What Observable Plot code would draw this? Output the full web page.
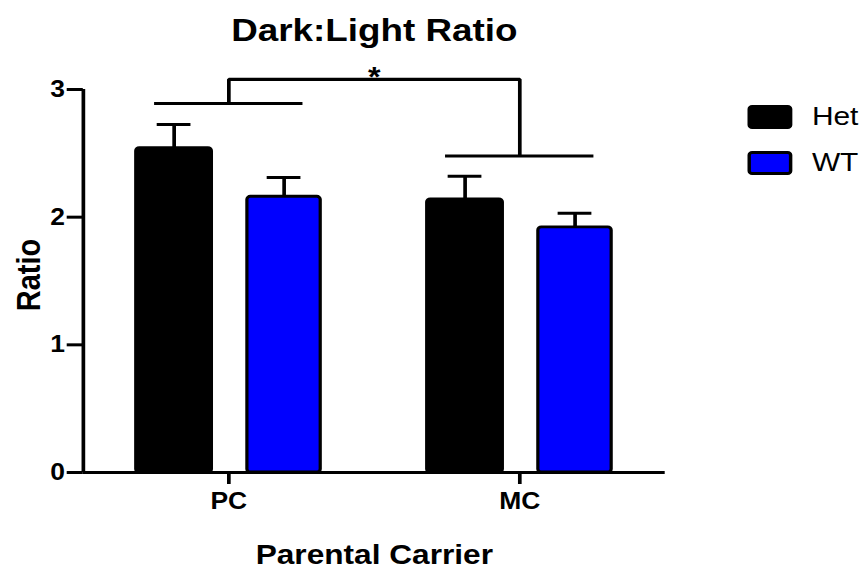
<!DOCTYPE html>
<html><head><meta charset="utf-8">
<script src="https://cdn.jsdelivr.net/npm/d3@7"></script>
<script src="https://cdn.jsdelivr.net/npm/@observablehq/plot@0.6"></script>
<style>
html,body{margin:0;padding:0;background:#fff;overflow:hidden;}
#wrap{position:relative;width:750px;height:571px;transform:scaleX(1.15);transform-origin:0 0;font-family:"Liberation Sans",Arial,sans-serif;}
#wrap svg{position:absolute;left:0;top:0;}
.lg{position:absolute;display:flex;align-items:center;}
.lg .sw{width:33px;height:18px;border:3px solid #000;border-radius:4px;box-sizing:content-box;}
.lg .tx{margin-left:17px;font-size:26px;color:#000;}
</style></head><body><div id="wrap"></div>
<script>
// ---- data ----
const groups = ["PC", "MC"];
const genotypes = ["Het", "WT"];
const genoColors = ["#000000", "#0000ff"];
const hetMean = [2.54, 2.14];
const hetSem = [0.185, 0.18];
const wtMean = [2.16, 1.92];
const wtSem = [0.15, 0.11];
const groupBracketY = [2.89, 2.48];
const topBracketY = 3.08;
const sigLabel = "*";
const yTicks = [0, 1, 2, 3];
const title = "Dark:Light Ratio";
const xLabel = "Parental Carrier";
const yLabel = "Ratio";

// ---- table ----
const rows = [];
groups.forEach((g, i) => {
  rows.push({group: g, gi: i, genotype: "Het", mean: hetMean[i], sem: hetSem[i]});
  rows.push({group: g, gi: i, genotype: "WT", mean: wtMean[i], sem: wtSem[i]});
});
const colorOf = d => genoColors[genotypes.indexOf(d.genotype)];
// layout of the two bars inside a group (group units)
const slot = {Het: [-0.318, -0.058], WT: [0.064, 0.316]};
const mid = d => d.gi + (slot[d.genotype][0] + slot[d.genotype][1]) / 2;
const capHalf = 0.058;
const bracketHalf = 0.255;

const bracketPath = [
  {x: 0, y: groupBracketY[0]}, {x: 0, y: topBracketY}, {x: 1, y: topBracketY}, {x: 1, y: groupBracketY[1]}
];
const groupLines = groups.map((g, i) => ({gi: i, y: groupBracketY[i]}));
const groupIdx = groups.map((g, i) => i);

const W = 750, H = 571;
const chart = Plot.plot({
  width: W, height: H,
  marginLeft: 72, marginRight: 172, marginTop: 89, marginBottom: 99,
  x: {domain: [-0.5, 1.5]},
  y: {domain: [0, 3]},
  style: {fontFamily: '"Liberation Sans", Arial, sans-serif', color: "#000", background: "transparent"},
  marks: [
    // error bars
    Plot.ruleX(rows, {x: mid, y1: "mean", y2: d => d.mean + d.sem, stroke: "#000", strokeWidth: 3.2}),
    Plot.ruleY(rows, {y: d => d.mean + d.sem, x1: d => mid(d) - capHalf, x2: d => mid(d) + capHalf, stroke: "#000", strokeWidth: 3}),
    // bars
    Plot.rectY(rows, {
      x1: d => d.gi + slot[d.genotype][0], x2: d => d.gi + slot[d.genotype][1],
      y1: 0, y2: "mean", fill: colorOf, stroke: "#000", strokeWidth: 2.8, rx: 3
    }),
    // significance bracket
    Plot.line(bracketPath, {x: "x", y: "y", stroke: "#000", strokeWidth: 3.2, strokeLinejoin: "miter", strokeLinecap: "butt"}),
    Plot.ruleY(groupLines, {y: "y", x1: d => d.gi - bracketHalf, x2: d => d.gi + bracketHalf, stroke: "#000", strokeWidth: 3}),
    Plot.text([sigLabel], {x: 0.5, y: topBracketY, text: d => d, lineAnchor: "bottom", dy: 7, fontSize: 28, fontWeight: "bold"}),
    // axes
    Plot.ruleX([-0.5], {y1: 0, y2: 3, stroke: "#000", strokeWidth: 3.2}),
    Plot.ruleY([0], {stroke: "#000", strokeWidth: 3}),
    Plot.axisY({ticks: yTicks, tickFormat: () => "", tickSize: 14, strokeWidth: 3, label: null}),
    Plot.axisX({ticks: groupIdx, tickFormat: () => "", tickSize: 12, strokeWidth: 3.2, label: null}),
    Plot.text(yTicks, {x: -0.5, y: d => d, text: d => String(d), textAnchor: "end", lineAnchor: "middle", dx: -16, fontSize: 23, fontWeight: "bold"}),
    Plot.text(groupIdx, {x: d => d, y: 0, text: d => groups[d], lineAnchor: "top", dy: 20, fontSize: 23, fontWeight: "bold"}),
    // labels
    Plot.text([xLabel], {frameAnchor: "bottom", text: d => d, lineAnchor: "middle", dy: 83, fontSize: 27.5, fontWeight: "bold"}),
    Plot.text([yLabel], {frameAnchor: "left", text: d => d, rotate: -90, textAnchor: "middle", lineAnchor: "middle", dx: -47, dy: -6, fontSize: 29, fontWeight: "bold"}),
    Plot.text([title], {frameAnchor: "top", text: d => d, lineAnchor: "middle", dy: -59, fontSize: 32, fontWeight: "bold"})
  ]
});
const wrap = document.getElementById("wrap");
wrap.appendChild(chart);

// legend (HTML, built from the data arrays)
const legendTop = [101, 147];
genotypes.forEach((g, i) => {
  const el = document.createElement("div");
  el.className = "lg";
  el.style.left = "650px";
  el.style.top = legendTop[i] + "px";
  el.innerHTML = `<div class="sw" style="background:${genoColors[i]}"></div><div class="tx">${g}</div>`;
  wrap.appendChild(el);
});
</script></body></html>
